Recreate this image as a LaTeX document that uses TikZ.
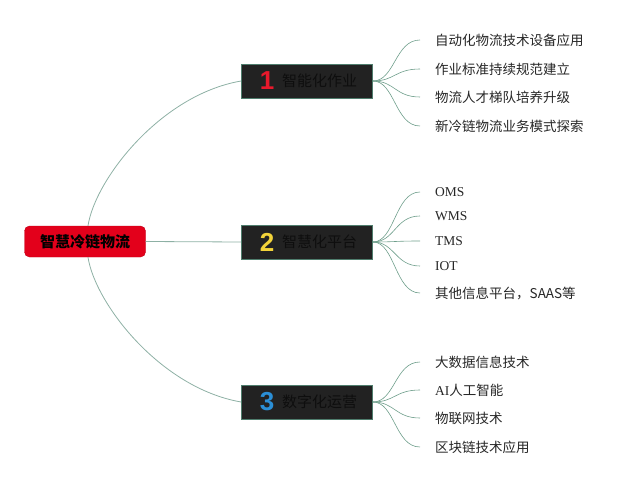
\documentclass[tikz,border=0pt]{standalone}
\usepackage{fontspec}
\setmainfont{Liberation Serif}
\newfontfamily\cjk{Noto Sans CJK SC}
\newfontfamily\numf{Liberation Sans}
\definecolor{rootred}{HTML}{E3001B}
\definecolor{boxfill}{HTML}{222222}
\definecolor{boxedge}{HTML}{4F7D6D}
\definecolor{lnk}{HTML}{8DB0A4}
\definecolor{leaflnk}{HTML}{6E9E8B}
\definecolor{nred}{HTML}{E8192C}
\definecolor{nyel}{HTML}{F2D33A}
\definecolor{nblue}{HTML}{2B8FD6}
\definecolor{dtext}{HTML}{0E0E0E}
\tikzset{
  rootbox/.style={draw=rootred!85!black, fill=rootred, rounded corners=5pt, minimum width=121pt, minimum height=31pt, inner sep=0pt, font=\cjk\bfseries\fontsize{15}{17}\selectfont, text=black},
  branchbox/.style={draw=boxedge, fill=boxfill, line width=0.8pt, minimum width=131pt, minimum height=34pt, inner sep=0pt},
  numlab/.style={font=\numf\bfseries\fontsize{26}{28}\selectfont, inner sep=0pt},
  brlab/.style={anchor=west, inner sep=0pt, font=\cjk\fontsize{15}{17}\selectfont, text=dtext},
  leaf/.style={anchor=west, inner sep=0pt, font=\cjk\fontsize{13.5}{16}\selectfont, text=black!85},
  latinleaf/.style={anchor=west, inner sep=0pt, font=\fontsize{13.5}{16}\selectfont, text=black!85},
  mainlink/.style={draw=lnk, line width=0.8pt},
  leaflink/.style={draw=leaflnk, line width=0.6pt}
}
\begin{document}
\begin{tikzpicture}[x=1pt,y=-1pt]
\useasboundingbox (0,0) rectangle (640,484);
% root
\node[rootbox] (root) at (85,241.5) {智慧冷链物流};
% branches
\node[branchbox] (b1) at (307,81) {};
\node[branchbox] (b2) at (307,242) {};
\node[branchbox] (b3) at (307,402) {};
\node[numlab, text=nred] (n1) at (267,81) {1};
\node[numlab, text=nyel] (n2) at (267,242) {2};
\node[numlab, text=nblue] (n3) at (267,402) {3};
\node[brlab] (t1) at (282,81) {智能化作业};
\node[brlab] (t2) at (282,242) {智慧化平台};
\node[brlab] (t3) at (282,402) {数字化运营};
% main links
\draw[mainlink] ([xshift=3pt]root.north) .. controls +(7,-46) and ([shift={(-81,14)}]b1.west) .. (b1.west);
\draw[mainlink] (root.east) -- (b2.west);
\draw[mainlink] ([xshift=3pt]root.south) .. controls +(7,46) and ([shift={(-81,-14)}]b3.west) .. (b3.west);
% leaves group 1
\node[leaf] (l11) at (435,40) {自动化物流技术设备应用};
\node[leaf] (l12) at (435,69) {作业标准持续规范建立};
\node[leaf] (l13) at (435,97) {物流人才梯队培养升级};
\node[leaf] (l14) at (435,126) {新冷链物流业务模式探索};
% leaves group 2
\node[latinleaf] (l21) at (435,192) {OMS};
\node[latinleaf] (l22) at (435,216) {WMS};
\node[latinleaf] (l23) at (435,241) {TMS};
\node[latinleaf] (l24) at (435,266) {IOT};
\node[leaf] (l25) at (435,293) {其他信息平台，SAAS等};
% leaves group 3
\node[leaf] (l31) at (435,362) {大数据信息技术};
\node[leaf] (l32) at (435,390) {{\rmfamily AI}人工智能};
\node[leaf] (l33) at (435,418) {物联网技术};
\node[leaf] (l34) at (435,447) {区块链技术应用};
% leaf links
\foreach \b/\l in {b1/l11,b1/l12,b1/l13,b1/l14,b2/l21,b2/l22,b2/l23,b2/l24,b2/l25,b3/l31,b3/l32,b3/l33,b3/l34}{
  \draw[leaflink] (\b.east) .. controls +(22,0) and ([xshift=-40pt]\l.west) .. ([xshift=-15pt]\l.west);
}
\end{tikzpicture}
\end{document}
